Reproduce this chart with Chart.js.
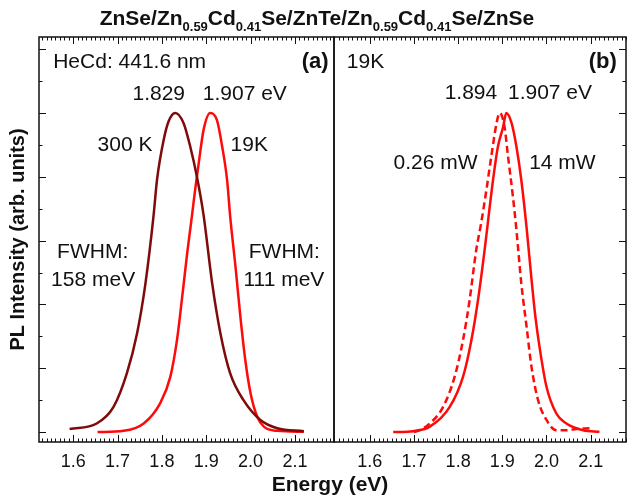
<!DOCTYPE html>
<html><head><meta charset="utf-8">
<script src="https://cdn.jsdelivr.net/npm/chart.js@4"></script>
<style>
html,body{margin:0;padding:0;background:#fff;}
#wrap{position:relative;width:628px;height:497px;overflow:hidden;font-family:'Liberation Sans',Arial,Helvetica,sans-serif;}
#title{position:absolute;left:0;top:6px;width:634px;text-align:center;font-weight:bold;font-size:21px;line-height:24px;color:#111;white-space:nowrap}
#title sub{font-size:13px;vertical-align:-6px;line-height:0}
#xtitle{position:absolute;left:230px;top:472px;width:200px;text-align:center;font-weight:bold;font-size:21px;line-height:24px;color:#111}
canvas{position:absolute;top:0}
</style></head><body>
<div id="wrap">
<canvas id="ca" width="336" height="497" style="left:0"></canvas>
<canvas id="cb" width="295" height="497" style="left:333px"></canvas>
<div id="title">ZnSe/Zn<sub>0.59</sub>Cd<sub>0.41</sub>Se/ZnTe/Zn<sub>0.59</sub>Cd<sub>0.41</sub>Se/ZnSe</div>
<div id="xtitle">Energy (eV)</div>
</div>
<script>
const xTicks = [1.6, 1.7, 1.8, 1.9, 2.0, 2.1];
const yTicks = [0, 0.1, 0.2, 0.3, 0.4, 0.5, 0.6, 0.7, 0.8, 0.9, 1.0, 1.1, 1.2];
const xRangeA = [1.523, 2.188];
const xRangeB = [1.519, 2.180];
const yRange = [-0.031, 1.238];

// (a) 300 K
const e300K = [1.592,1.653,1.691,1.721,1.744,1.763,1.781,1.789,1.804,1.815,1.830,1.849,1.864,1.879,1.894,1.913,1.932,1.954,1.984,2.022,2.060,2.120];
const i300K = [0.010,0.027,0.079,0.184,0.309,0.466,0.675,0.790,0.915,0.973,1.000,0.968,0.894,0.800,0.680,0.470,0.309,0.184,0.100,0.038,0.012,0.003];
// (a) 19 K
const e19K = [1.655,1.714,1.759,1.796,1.819,1.834,1.845,1.857,1.868,1.875,1.883,1.894,1.909,1.924,1.936,1.947,1.954,1.966,1.977,1.988,2.000,2.015,2.030,2.060,2.120];
const i19K = [0.000,0.004,0.027,0.090,0.173,0.288,0.414,0.560,0.680,0.760,0.842,0.947,1.000,0.978,0.894,0.790,0.675,0.518,0.361,0.226,0.121,0.048,0.017,0.004,0.001];
// (b) 14 mW
const e14mW = [1.653,1.698,1.736,1.781,1.811,1.830,1.845,1.860,1.871,1.879,1.890,1.902,1.909,1.921,1.932,1.943,1.955,1.966,1.975,1.985,2.000,2.022,2.045,2.083,2.120];
const i14mW = [0.000,0.003,0.017,0.079,0.173,0.288,0.414,0.571,0.700,0.790,0.894,0.957,1.000,0.968,0.894,0.790,0.640,0.480,0.360,0.260,0.142,0.059,0.027,0.006,0.001];
// (b) 0.26 mW
const e026mW = [1.700,1.713,1.736,1.766,1.792,1.811,1.826,1.841,1.852,1.864,1.875,1.887,1.894,1.905,1.913,1.924,1.932,1.943,1.955,1.966,1.981,2.000,2.022,2.045,2.068,2.098];
const i026mW = [0.000,0.006,0.027,0.079,0.173,0.288,0.414,0.571,0.654,0.759,0.863,0.968,1.000,0.957,0.863,0.738,0.633,0.466,0.330,0.205,0.100,0.038,0.006,0.006,0.010,0.012];

const notesA = [
  {text:'HeCd: 441.6 nm', x:1.555, y:1.160, align:'left'},
  {text:'(a)', x:2.176, y:1.160, align:'right', bold:true, size:22},
  {text:'1.829', x:1.793, y:1.060},
  {text:'1.907 eV', x:1.987, y:1.060},
  {text:'300 K', x:1.717, y:0.900},
  {text:'19K', x:1.997, y:0.900},
  {text:'FWHM:', x:1.644, y:0.564},
  {text:'158 meV', x:1.645, y:0.476},
  {text:'FWHM:', x:2.076, y:0.564},
  {text:'111 meV', x:2.075, y:0.476}
];
const notesB = [
  {text:'19K', x:1.548, y:1.160, align:'left'},
  {text:'(b)', x:2.159, y:1.160, align:'right', bold:true, size:22},
  {text:'1.894', x:1.829, y:1.063},
  {text:'1.907 eV', x:2.008, y:1.063},
  {text:'0.26 mW', x:1.749, y:0.843},
  {text:'14 mW', x:2.036, y:0.843}
];

const FONT = "'Liberation Sans', Arial, Helvetica, sans-serif";
const pts = (e, v) => e.map((x, k) => ({x: x, y: v[k]}));

function frameTicks(side) {
  return {
    id: 'frameTicks',
    afterDatasetsDraw(chart) {
      const ctx = chart.ctx, a = chart.chartArea, x = chart.scales.x, y = chart.scales.y;
      ctx.save();
      ctx.strokeStyle = '#111';
      ctx.lineWidth = 1.5;
      ctx.strokeRect(a.left, a.top, a.right - a.left, a.bottom - a.top);
      ctx.lineWidth = 1;
      ctx.beginPath();
      const i0 = Math.ceil(x.min * 100 - 1e-6), i1 = Math.floor(x.max * 100 + 1e-6);
      for (let i = i0; i <= i1; i++) {
        const px = Math.round(x.getPixelForValue(i / 100)) + 0.5;
        const len = i % 10 === 0 ? 7 : 3.5;
        ctx.moveTo(px, a.bottom); ctx.lineTo(px, a.bottom - len);
        ctx.moveTo(px, a.top); ctx.lineTo(px, a.top + len);
      }
      yTicks.forEach((v, k) => {
        const py = Math.round(y.getPixelForValue(v)) + 0.5;
        const len = k % 2 === 0 ? 7 : 3.5;
        if (side === 'left') { ctx.moveTo(a.left, py); ctx.lineTo(a.left + len, py); }
        else { ctx.moveTo(a.right, py); ctx.lineTo(a.right - len, py); }
      });
      ctx.stroke();
      ctx.restore();
    }
  };
}

const notesPlugin = {
  id: 'notes',
  afterDatasetsDraw(chart, args, opts) {
    const ctx = chart.ctx, x = chart.scales.x, y = chart.scales.y;
    ctx.save();
    ctx.fillStyle = '#111';
    ctx.textBaseline = 'middle';
    (opts.items || []).forEach(n => {
      ctx.font = (n.bold ? 'bold ' : '') + (n.size || 21) + 'px ' + FONT;
      ctx.textAlign = n.align || 'center';
      ctx.fillText(n.text, x.getPixelForValue(n.x), y.getPixelForValue(n.y));
    });
    ctx.restore();
  }
};

function xScale(range) {
  return {
    type: 'linear', min: range[0], max: range[1],
    grid: {display: false, drawTicks: false}, border: {display: false},
    ticks: {font: {family: FONT, size: 18}, color: '#111', padding: 9, maxRotation: 0, autoSkip: false,
            callback: v => Number(v).toFixed(1)},
    afterBuildTicks: s => { s.ticks = xTicks.map(v => ({value: v})); },
    afterFit: s => { s.height = 55; }
  };
}

const common = {
  responsive: false, animation: false, devicePixelRatio: 1,
  elements: {point: {radius: 0}, line: {borderWidth: 2.5, cubicInterpolationMode: 'monotone'}}
};

new Chart(document.getElementById('ca'), {
  type: 'line',
  data: {datasets: [
    {data: pts(e300K, i300K), borderColor: '#7f0a0a'},
    {data: pts(e19K, i19K), borderColor: '#ff0a0a'}
  ]},
  plugins: [frameTicks('left'), notesPlugin],
  options: Object.assign({}, common, {
    layout: {padding: {top: 37, right: 2, left: 0, bottom: 0}},
    plugins: {legend: {display: false}, tooltip: {enabled: false}, notes: {items: notesA}},
    scales: {
      x: xScale(xRangeA),
      y: {type: 'linear', min: yRange[0], max: yRange[1],
          grid: {display: false, drawTicks: false}, border: {display: false},
          ticks: {display: false},
          title: {display: true, text: 'PL Intensity (arb. units)', color: '#111',
                  font: {family: FONT, size: 20, weight: 'bold'}, padding: {top: 6, bottom: 0}},
          afterFit: s => { s.width = 39; }}
    }
  })
});

new Chart(document.getElementById('cb'), {
  type: 'line',
  data: {datasets: [
    {data: pts(e14mW, i14mW), borderColor: '#ff0a0a'},
    {data: pts(e026mW, i026mW), borderColor: '#ff0a0a', borderDash: [7, 4]}
  ]},
  plugins: [frameTicks('right'), notesPlugin],
  options: Object.assign({}, common, {
    layout: {padding: {top: 37, right: 2, left: 1, bottom: 0}},
    plugins: {legend: {display: false}, tooltip: {enabled: false}, notes: {items: notesB}},
    scales: {
      x: xScale(xRangeB),
      y: {type: 'linear', min: yRange[0], max: yRange[1], display: false}
    }
  })
});
</script>
</body></html>
